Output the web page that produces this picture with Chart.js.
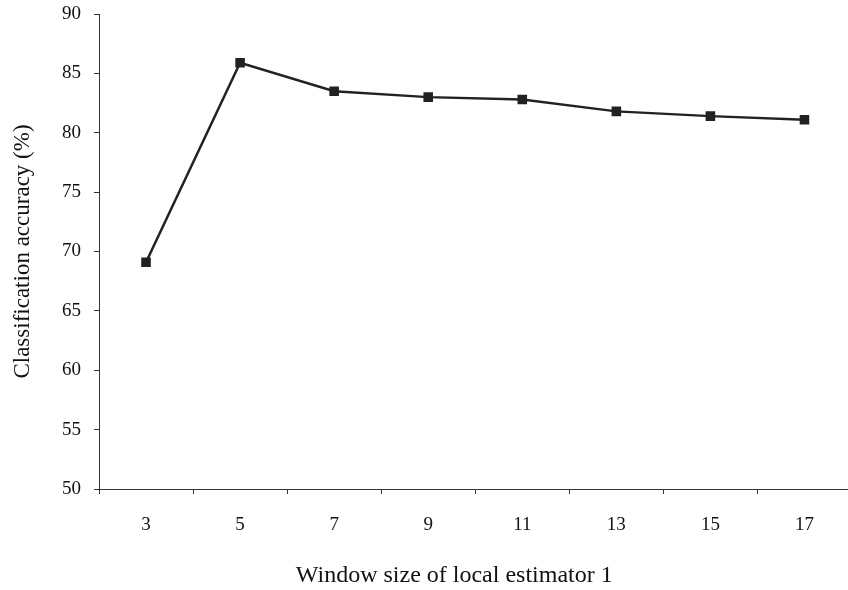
<!DOCTYPE html>
<html>
<head>
<meta charset="utf-8">
<script src="https://cdn.jsdelivr.net/npm/chart.js@4/dist/chart.umd.min.js"></script>
<style>
  html, body { margin: 0; padding: 0; background: #fff; overflow: hidden; }
  #wrap { width: 859px; height: 590px; position: relative; }
</style>
</head>
<body>
<div id="wrap"><canvas id="accChart"></canvas></div>
<script>
// window sizes and accuracy per size
const windowSizes = ['3', '5', '7', '9', '11', '13', '15', '17'];
const accuracy = [69.1, 85.9, 83.5, 83.0, 82.8, 81.8, 81.4, 81.1];
const yTicks = [50, 55, 60, 65, 70, 75, 80, 85, 90];

const serif = '"Liberation Serif", "Times New Roman", serif';
const ink = '#222';

const ctx = document.getElementById('accChart');
new Chart(ctx, {
    type: 'line',
    data: {
        labels: windowSizes,
        datasets: [{
            label: 'Accuracy',
            data: accuracy,
            borderColor: ink,
            backgroundColor: ink,
            borderWidth: 2.5,
            pointStyle: 'rect',
            pointRadius: 5,
            pointHoverRadius: 5,
            tension: 0
        }]
    },
    options: {
        responsive: true,
        maintainAspectRatio: false,
        animation: false,
        layout: { padding: { top: 14, right: 0, left: 0, bottom: 0 } },
        plugins: {
            legend: { display: false },
            tooltip: { enabled: false }
        },
        scales: {
            x: {
                offset: true,
                grid: {
                    offset: true,
                    drawOnChartArea: false,
                    drawTicks: true,
                    tickLength: 5,
                    color: '#333'
                },
                border: { display: true, color: '#333', width: 1 },
                ticks: {
                    color: '#111',
                    font: { family: serif, size: 19 },
                    padding: 20,
                    maxRotation: 0
                },
                title: {
                    display: true,
                    // trailing spaces pull the centred title a little left
                    text: 'Window size of local estimator 1\u00a0\u00a0\u00a0\u00a0\u00a0\u00a0\u00a0',
                    color: '#111',
                    font: { family: serif, size: 24 },
                    padding: { top: 0, bottom: 0 }
                },
                afterFit: function (scale) {
                    scale.height = 101;
                    scale.paddingLeft = 0;
                    scale.paddingRight = 0;
                }
            },
            y: {
                min: 50,
                max: 90,
                afterBuildTicks: function (scale) {
                    scale.ticks = yTicks.map(function (v) { return { value: v }; });
                },
                grid: {
                    drawOnChartArea: false,
                    drawTicks: true,
                    tickLength: 5,
                    color: '#333'
                },
                border: { display: true, color: '#333', width: 1 },
                ticks: {
                    color: '#111',
                    font: { family: serif, size: 19 },
                    padding: 13
                },
                title: {
                    display: true,
                    text: 'Classification accuracy (%)',
                    color: '#111',
                    font: { family: serif, size: 23 },
                    padding: { top: 9, bottom: 0 }
                },
                afterFit: function (scale) {
                    scale.width = 99;
                    // let the top tick label sit on the canvas edge area
                    scale.paddingTop = 0;
                    scale.paddingBottom = 0;
                }
            }
        }
    }
});
</script>
</body>
</html>
